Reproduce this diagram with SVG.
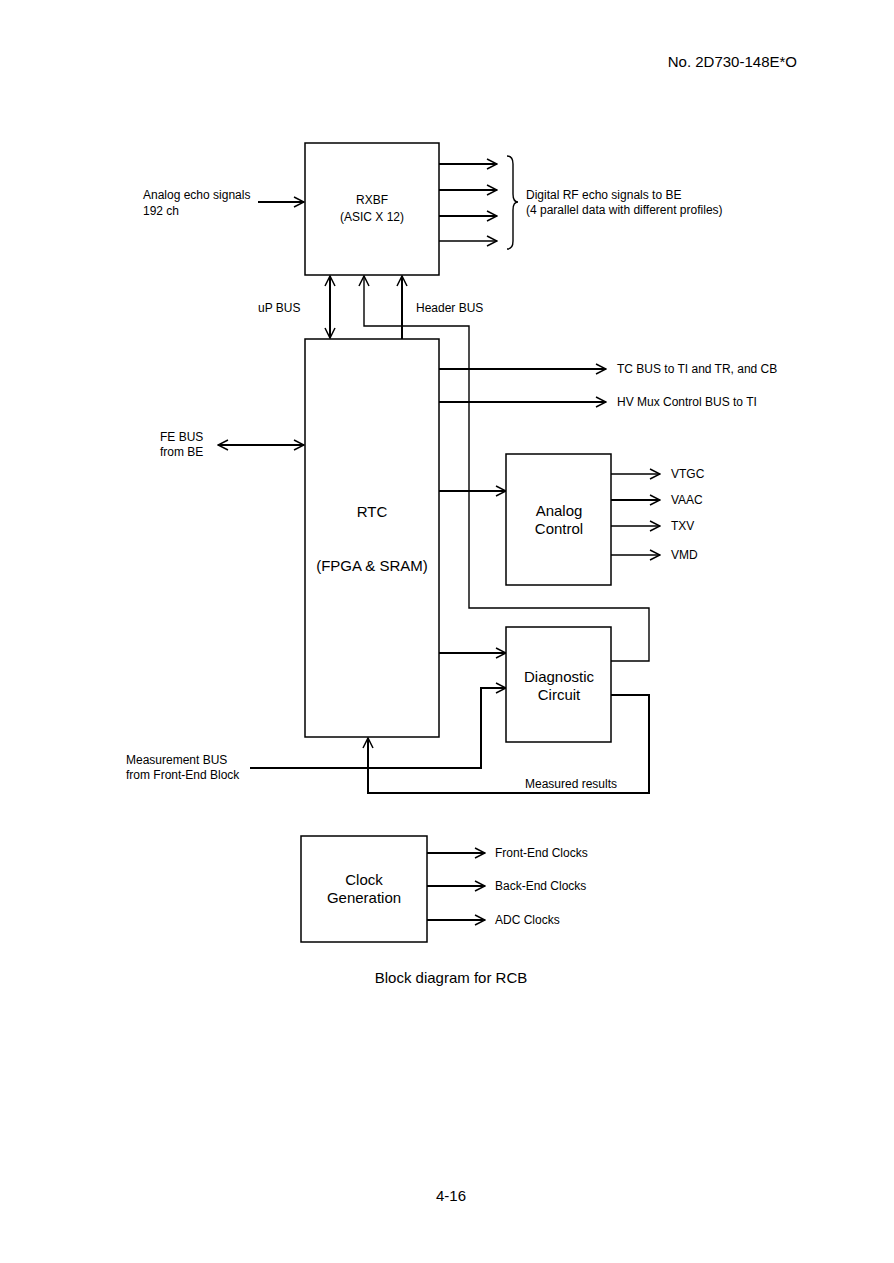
<svg xmlns="http://www.w3.org/2000/svg" width="894" height="1263" viewBox="0 0 894 1263">
<style>
text{font-family:"Liberation Sans",Arial,sans-serif;fill:#000}
.s{font-size:12px}
.m{font-size:15px}
.box{fill:#fff;stroke:#000;stroke-width:1.5}
.w{fill:none;stroke:#000;stroke-width:2}
.t{fill:none;stroke:#000;stroke-width:1.4}
</style>
<defs>
<marker id="a" viewBox="0 0 12 12" refX="11" refY="6" markerWidth="12" markerHeight="12" markerUnits="userSpaceOnUse" orient="auto-start-reverse">
<path d="M1,1 L11,6 L1,11" fill="none" stroke="#000" stroke-width="1.5"/>
</marker>
</defs>
<rect width="894" height="1263" fill="#fff"/>
<text x="797" y="67" class="m" text-anchor="end">No. 2D730-148E*O</text>

<g id="connectors">
<path class="w" d="M258,202 H304" marker-end="url(#a)"/>
<path class="w" d="M439,164 H497" marker-end="url(#a)"/>
<path class="w" d="M439,190 H497" marker-end="url(#a)"/>
<path class="w" d="M439,216 H497" marker-end="url(#a)"/>
<path class="t" d="M439,241 H497" marker-end="url(#a)"/>
<path class="t" d="M507,156 Q513,156 513,164 V194 Q513,202 518,202 Q513,202 513,210 V241 Q513,249 507,249"/>
<path class="w" d="M330,276 V338" marker-start="url(#a)" marker-end="url(#a)"/>
<path class="w" d="M402,339 V276" marker-end="url(#a)"/>
<path class="t" d="M611,661 H649 V608 H469 V326 H364 V276" marker-end="url(#a)"/>
<path class="w" d="M439,369 H606" marker-end="url(#a)"/>
<path class="w" d="M439,402 H606" marker-end="url(#a)"/>
<path class="w" d="M218,445 H304" marker-start="url(#a)" marker-end="url(#a)"/>
<path class="w" d="M439,491 H506" marker-end="url(#a)"/>
<path class="t" d="M611,474 H660" marker-end="url(#a)"/>
<path class="w" d="M611,500 H660" marker-end="url(#a)"/>
<path class="t" d="M611,526 H660" marker-end="url(#a)"/>
<path class="t" d="M611,555 H660" marker-end="url(#a)"/>
<path class="w" d="M439,653 H506" marker-end="url(#a)"/>
<path class="w" d="M250,768 H481 V688 H506" marker-end="url(#a)"/>
<path class="w" d="M611,695 H649 V793 H368 V738" marker-end="url(#a)"/>
<path class="w" d="M427,853 H485" marker-end="url(#a)"/>
<path class="w" d="M427,886 H485" marker-end="url(#a)"/>
<path class="w" d="M427,920 H485" marker-end="url(#a)"/>
</g>

<g id="rxbf">
<rect class="box" x="305" y="143" width="134" height="132"/>
<text x="372" y="204" class="s" text-anchor="middle">RXBF</text>
<text x="372" y="221" class="s" text-anchor="middle">(ASIC X 12)</text>
</g>
<g id="rtc">
<rect class="box" x="305" y="339" width="134" height="398"/>
<text x="372" y="517" class="m" text-anchor="middle">RTC</text>
<text x="372" y="571" class="m" text-anchor="middle">(FPGA &amp; SRAM)</text>
</g>
<g id="analog">
<rect class="box" x="506" y="454" width="105" height="131"/>
<text x="559" y="516" class="m" text-anchor="middle">Analog</text>
<text x="559" y="534" class="m" text-anchor="middle">Control</text>
</g>
<g id="diag">
<rect class="box" x="506" y="627" width="105" height="115"/>
<text x="559" y="682" class="m" text-anchor="middle">Diagnostic</text>
<text x="559" y="700" class="m" text-anchor="middle">Circuit</text>
</g>
<g id="clock">
<rect class="box" x="301" y="836" width="126" height="106"/>
<text x="364" y="885" class="m" text-anchor="middle">Clock</text>
<text x="364" y="903" class="m" text-anchor="middle">Generation</text>
</g>

<g id="labels">
<text x="143" y="199" class="s">Analog echo signals</text>
<text x="143" y="215" class="s">192 ch</text>
<text x="526" y="199" class="s">Digital RF echo signals to BE</text>
<text x="526" y="214" class="s">(4 parallel data with different profiles)</text>
<text x="258" y="312" class="s">uP BUS</text>
<text x="416" y="312" class="s">Header BUS</text>
<text x="617" y="373" class="s">TC BUS to TI and TR, and CB</text>
<text x="617" y="406" class="s">HV Mux Control BUS to TI</text>
<text x="160" y="441" class="s">FE BUS</text>
<text x="160" y="456" class="s">from BE</text>
<text x="671" y="478" class="s">VTGC</text>
<text x="671" y="504" class="s">VAAC</text>
<text x="671" y="530" class="s">TXV</text>
<text x="671" y="559" class="s">VMD</text>
<text x="126" y="764" class="s">Measurement BUS</text>
<text x="126" y="779" class="s">from Front-End Block</text>
<text x="525" y="788" class="s">Measured results</text>
<text x="495" y="857" class="s">Front-End Clocks</text>
<text x="495" y="890" class="s">Back-End Clocks</text>
<text x="495" y="924" class="s">ADC Clocks</text>
<text x="451" y="983" class="m" text-anchor="middle">Block diagram for RCB</text>
<text x="451" y="1201" class="m" text-anchor="middle">4-16</text>
</g>
</svg>
